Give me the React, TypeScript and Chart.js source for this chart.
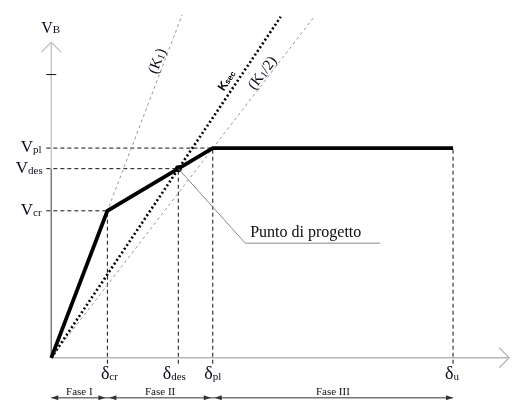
import React, { useEffect, useRef } from 'react';
import { Chart, registerables } from 'chart.js';

Chart.register(...registerables);

// ---- data (horizontal displacement δ, base shear V) ----
const pointNames = ['', 'cr', 'des', 'pl', 'u'];
const curveDelta = [0, 57, 129, 164, 408];
const curveV = [0, 150, 193, 214, 214];
const k1Delta = [0, 133];
const k1V = [0, 350];
const kSecDelta = [0, 233];
const kSecV = [0, 348];
const kHalfDelta = [0, 267];
const kHalfV = [0, 348];
const xAxisEnd = 465;
const yAxisEnd = 322;
const yAxisTick = 289;
const phaseNames = ['Fase I', 'Fase II', 'Fase III'];
const phaseStart = [0, 57, 164];
const phaseEnd = [57, 164, 408];
const designLabel = 'Punto di progetto';

const SERIF = '"Liberation Serif", "DejaVu Serif", serif';
const SANS = '"Liberation Sans", Arial, sans-serif';

const pts = (xs: number[], ys: number[]) => xs.map((x, i) => ({ x, y: ys[i] }));

function drawSub(
  ctx: CanvasRenderingContext2D,
  x: number,
  y: number,
  main: string,
  sub: string,
  mainFont: string,
  subFont: string,
  subDy: number,
  align: 'left' | 'center' | 'right',
  tail = ''
) {
  ctx.font = mainFont;
  const wm = ctx.measureText(main).width;
  const wt = tail ? ctx.measureText(tail).width : 0;
  ctx.font = subFont;
  const ws = ctx.measureText(sub).width;
  const total = wm + ws + wt;
  let sx = x;
  if (align === 'center') sx = x - total / 2;
  if (align === 'right') sx = x - total;
  ctx.textAlign = 'left';
  ctx.textBaseline = 'alphabetic';
  ctx.font = mainFont;
  ctx.fillText(main, sx, y);
  ctx.font = subFont;
  ctx.fillText(sub, sx + wm, y + subDy);
  if (tail) {
    ctx.font = mainFont;
    ctx.fillText(tail, sx + wm + ws, y);
  }
}

const decor = {
  id: 'decor',
  beforeDatasetsDraw(chart: any) {
    const ctx: CanvasRenderingContext2D = chart.ctx;
    const X = (v: number) => chart.scales.x.getPixelForValue(v);
    const Y = (v: number) => chart.scales.y.getPixelForValue(v);
    const seg = (x1: number, y1: number, x2: number, y2: number) => {
      ctx.beginPath();
      ctx.moveTo(x1, y1);
      ctx.lineTo(x2, y2);
      ctx.stroke();
    };
    ctx.save();
    ctx.lineCap = 'butt';
    // y axis
    ctx.lineWidth = 1.5;
    ctx.strokeStyle = '#7a7a7a';
    seg(X(0), Y(0), X(0), Y(curveV[2]));
    ctx.strokeStyle = '#c6c6c6';
    seg(X(0), Y(curveV[2]), X(0), Y(yAxisEnd));
    ctx.lineWidth = 1.3;
    ctx.beginPath();
    ctx.moveTo(X(0) - 10, Y(yAxisEnd) + 10);
    ctx.lineTo(X(0), Y(yAxisEnd));
    ctx.lineTo(X(0) + 10, Y(yAxisEnd) + 10);
    ctx.stroke();
    ctx.strokeStyle = '#111';
    ctx.lineWidth = 1;
    seg(X(0) - 5, Y(yAxisTick), X(0) + 5, Y(yAxisTick));
    // x axis
    ctx.strokeStyle = '#b8b8b8';
    ctx.lineWidth = 1.5;
    seg(X(0), Y(0), X(xAxisEnd), Y(0));
    ctx.lineWidth = 1.3;
    ctx.beginPath();
    ctx.moveTo(X(xAxisEnd) - 10, Y(0) - 10);
    ctx.lineTo(X(xAxisEnd), Y(0));
    ctx.lineTo(X(xAxisEnd) - 10, Y(0) + 10);
    ctx.stroke();
    ctx.restore();
  },
  afterDatasetsDraw(chart: any) {
    const ctx: CanvasRenderingContext2D = chart.ctx;
    const X = (v: number) => chart.scales.x.getPixelForValue(v);
    const Y = (v: number) => chart.scales.y.getPixelForValue(v);
    ctx.save();
    ctx.fillStyle = '#0c0c1c';

    // axis title
    drawSub(ctx, X(0) - 10, Y(yAxisEnd) - 9, 'V', 'B', `16px ${SERIF}`, `11px ${SERIF}`, 0, 'left');

    // V labels
    const vLeft = [0, -31, -36, -31];
    for (let i = 1; i <= 3; i++) {
      drawSub(ctx, X(vLeft[i]), Y(curveV[i]) + 4, 'V', pointNames[i], `17px ${SERIF}`, `11px ${SERIF}`, 1, 'left');
    }
    // δ labels
    const dShift = [0, 2, -4, 0, -1];
    for (let i = 1; i <= 4; i++) {
      drawSub(ctx, X(curveDelta[i]) + dShift[i], Y(0) + 21, 'δ', pointNames[i], `18px ${SERIF}`, `11px ${SERIF}`, 1, 'center');
    }

    // stiffness labels (rotated along lines)
    const rot = (dx: number[], dy: number[]) =>
      Math.atan2(Y(dy[1]) - Y(dy[0]), X(dx[1]) - X(dx[0]));
    ctx.save();
    ctx.translate(X(107), Y(303));
    ctx.rotate(rot(k1Delta, k1V));
    drawSub(ctx, 0, 5, '(K', '1', `15px ${SERIF}`, `10px ${SERIF}`, 1, 'center', ')');
    ctx.restore();

    ctx.save();
    ctx.translate(X(178), Y(283));
    ctx.rotate(rot(kSecDelta, kSecV));
    ctx.fillStyle = '#000';
    drawSub(ctx, 0, 4, 'K', 'sec', `bold 12px ${SANS}`, `bold 8px ${SANS}`, 0, 'center');
    ctx.restore();

    ctx.save();
    ctx.translate(X(214), Y(291));
    ctx.rotate(rot(kHalfDelta, kHalfV));
    drawSub(ctx, 0, 5, '(K', '1', `15px ${SERIF}`, `10px ${SERIF}`, 1, 'center', '/2)');
    ctx.restore();

    // design point leader
    ctx.strokeStyle = '#8a8a8a';
    ctx.lineWidth = 1;
    ctx.beginPath();
    ctx.moveTo(X(curveDelta[2]), Y(curveV[2]));
    ctx.lineTo(X(197), Y(117));
    ctx.lineTo(X(334), Y(117));
    ctx.stroke();
    ctx.fillStyle = '#0c0c0c';
    ctx.font = `16px ${SERIF}`;
    ctx.textAlign = 'left';
    ctx.textBaseline = 'alphabetic';
    ctx.fillText(designLabel, X(202), Y(123));

    // phases
    const yy = Y(0) + 40;
    ctx.strokeStyle = '#333';
    ctx.fillStyle = '#333';
    ctx.lineWidth = 1;
    const head = (x: number, dir: number) => {
      ctx.beginPath();
      ctx.moveTo(x, yy);
      ctx.lineTo(x - dir * 7, yy - 2.5);
      ctx.lineTo(x - dir * 7, yy + 2.5);
      ctx.closePath();
      ctx.fill();
    };
    for (let i = 0; i < phaseNames.length; i++) {
      const a = X(phaseStart[i]);
      const b = X(phaseEnd[i]);
      ctx.beginPath();
      ctx.moveTo(a, yy);
      ctx.lineTo(b, yy);
      ctx.stroke();
      head(a + (i === 0 ? 0 : 2), -1);
      head(b - (i === phaseNames.length - 1 ? 0 : 2), 1);
      ctx.font = `11px ${SERIF}`;
      ctx.textAlign = 'center';
      ctx.fillStyle = '#111';
      ctx.fillText(phaseNames[i], (a + b) / 2, yy - 3);
      ctx.fillStyle = '#333';
    }
    ctx.restore();
  },
};

export default function App() {
  const ref = useRef<HTMLCanvasElement>(null);
  useEffect(() => {
    if (!ref.current) return;
    const refLines: any[] = [];
    for (let i = 1; i <= 4; i++) {
      if (i <= 3) {
        refLines.push({
          data: pts([-5, curveDelta[i]], [curveV[i], curveV[i]]),
          showLine: true,
          borderColor: '#111',
          borderWidth: 1,
          borderDash: [4, 3],
          pointRadius: 0,
          order: 5,
        });
      }
      refLines.push({
        data: pts([curveDelta[i], curveDelta[i]], [-6, curveV[i]]),
        showLine: true,
        borderColor: '#111',
        borderWidth: 1,
        borderDash: [4, 3],
        pointRadius: 0,
        order: 5,
      });
    }
    const chart = new Chart(ref.current, {
      type: 'scatter',
      data: {
        datasets: [
          {
            data: pts(curveDelta, curveV),
            showLine: true,
            borderColor: '#000',
            borderWidth: 3.8,
            borderJoinStyle: 'miter',
            pointRadius: 0,
            order: 0,
          },
          {
            data: pts([curveDelta[2]], [curveV[2]]),
            backgroundColor: '#000',
            borderWidth: 0,
            pointRadius: 3.5,
            order: 0,
          },
          {
            data: pts(kSecDelta, kSecV),
            showLine: true,
            borderColor: '#000',
            borderWidth: 2.6,
            borderDash: [2, 2.5],
            pointRadius: 0,
            order: 1,
          },
          {
            data: pts(k1Delta, k1V),
            showLine: true,
            borderColor: '#999',
            borderWidth: 1,
            borderDash: [3, 3],
            pointRadius: 0,
            order: 3,
          },
          {
            data: pts(kHalfDelta, kHalfV),
            showLine: true,
            borderColor: '#999',
            borderWidth: 1,
            borderDash: [3, 3],
            pointRadius: 0,
            order: 3,
          },
          ...refLines,
        ] as any,
      },
      options: {
        animation: false,
        responsive: false,
        events: [],
        layout: { padding: 0 },
        plugins: { legend: { display: false }, tooltip: { enabled: false } },
        scales: {
          x: { type: 'linear', display: false, min: -48, max: 477 },
          y: { type: 'linear', display: false, min: -42, max: 361 },
        },
      },
      plugins: [decor],
    });
    return () => chart.destroy();
  }, []);
  return (
    <div style={{ position: 'fixed', left: 0, top: 0, width: 525, height: 403, background: '#fff' }}>
      <canvas ref={ref} width={525} height={403} style={{ display: 'block' }} />
    </div>
  );
}
